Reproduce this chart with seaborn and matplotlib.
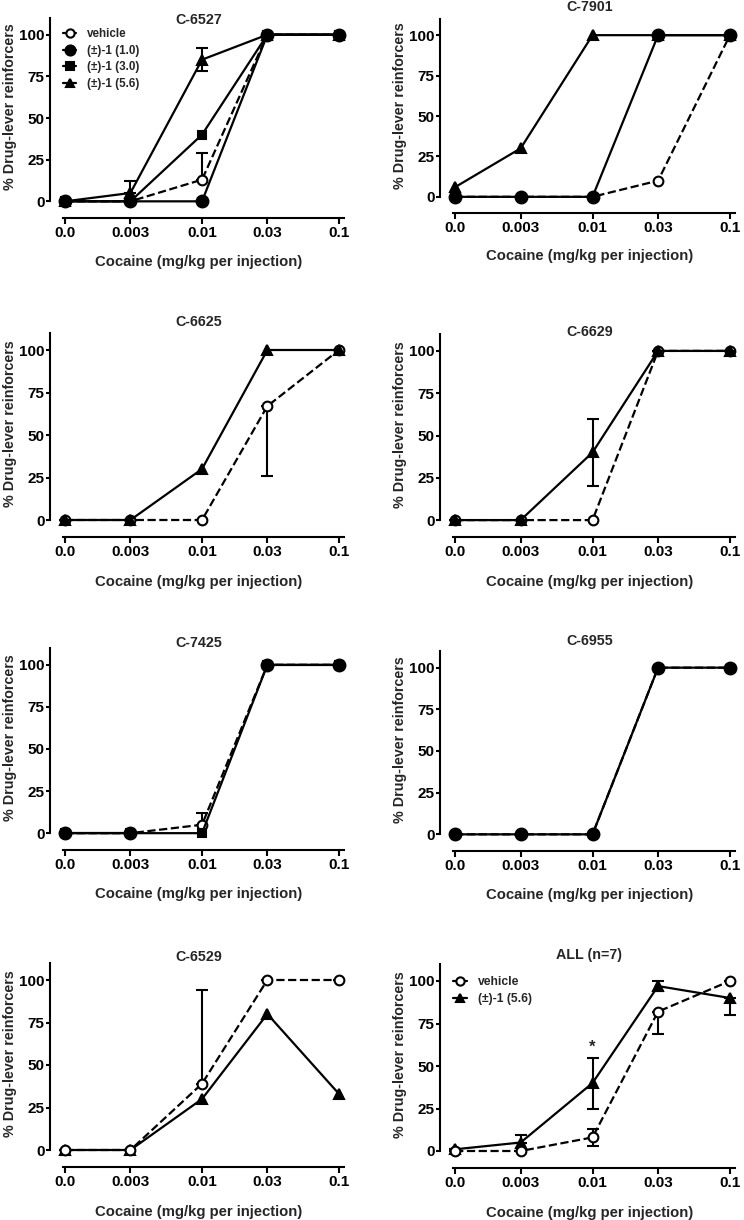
import numpy as np
import matplotlib
matplotlib.use("Agg")
import matplotlib.pyplot as plt
from matplotlib.lines import Line2D
from matplotlib.ticker import NullLocator
import seaborn as sns

# ---------------- data ----------------
DOSES = [0.001, 0.003, 0.01, 0.03, 0.1]          # 0.001 stands in for the "0.0" (saline) point on the log axis
DOSE_LABELS = ["0.0", "0.003", "0.01", "0.03", "0.1"]
Y_TICKS = [0, 25, 50, 75, 100]
NAN = float("nan")

# C-6527
c6527_vehicle = [0, 0, 13, 100, 100]
c6527_vehicle_up = [0, 0, 16, 0, 0]
c6527_d10 = [0, 0, 0, 100, 100]
c6527_d30 = [0, 0, 40, 100, 100]
c6527_d56 = [0, 5, 85, 100, 100]
c6527_d56_up = [0, 7, 7, 0, 0]
c6527_d56_dn = [0, 0, 7, 0, 0]

# C-7901
c7901_vehicle = [0, 0, 0, 10, 100]
c7901_d10 = [0, 0, 0, 100, 100]
c7901_d56 = [6, 30, 100, 100, 100]

# C-6625
c6625_vehicle = [0, 0, 0, 67, 100]
c6625_vehicle_dn = [0, 0, 0, 41, 0]
c6625_d56 = [0, 0, 30, 100, 100]

# C-6629
c6629_vehicle = [0, 0, 0, 100, 100]
c6629_d56 = [0, 0, 40, 100, 100]
c6629_d56_up = [0, 0, 20, 0, 0]
c6629_d56_dn = [0, 0, 20, 0, 0]

# C-7425
c7425_vehicle = [0, 0, 5, 100, 100]
c7425_vehicle_up = [0, 0, 7, 0, 0]
c7425_d30 = [0, 0, 0, 100, 100]
c7425_d10 = [0, 0, NAN, 100, 100]

# C-6955
c6955_vehicle = [0, 0, 0, 100, 100]
c6955_d10 = [0, 0, 0, 100, 100]

# C-6529
c6529_vehicle = [0, 0, 39, 100, 100]
c6529_vehicle_up = [0, 0, 55, 0, 0]
c6529_d56 = [0, 0, 30, 80, 33]

# ALL (n=7)
all_vehicle = [0, 0, 8, 82, 100]
all_vehicle_up = [0, 0, 5, 0, 0]
all_vehicle_dn = [0, 0, 5, 13, 0]
all_d56 = [1, 5, 40, 97, 90]
all_d56_up = [0, 4.5, 15, 3, 0]
all_d56_dn = [0, 0, 15, 3, 10]
all_star_dose = 0.01
all_star_y = 61

ZERO = [0, 0, 0, 0, 0]

# ---------------- styles ----------------
STYLE = {
    "vehicle":     dict(marker="o", ms=7.0, mfc="white", ls="--"),
    "(±)-1 (1.0)": dict(marker="o", ms=8.5, mfc="black", ls="-"),
    "(±)-1 (3.0)": dict(marker="s", ms=6.0, mfc="black", ls="-"),
    "(±)-1 (5.6)": dict(marker="^", ms=7.0, mfc="black", ls="-"),
}
LW = 1.6

W, H = 744, 1220
# (left, right, top, bottom) in pixels, top = y value 110, bottom = y value -10
RECTS = [
    (50, 348, 18, 218), (440, 739, 19, 213),
    (50, 348, 333, 537), (440, 739, 334, 537),
    (50, 348, 648, 850), (440, 739, 651, 851),
    (50, 348, 963, 1167), (440, 739, 964, 1168),
]
TITLE_Y = [0.99, 1.063, 1.055, 1.008, 1.026, 1.05, 1.031, 1.044]

panels = [
    ("C-6527", [("vehicle", c6527_vehicle, ZERO, c6527_vehicle_up),
                ("(±)-1 (1.0)", c6527_d10, ZERO, ZERO),
                ("(±)-1 (3.0)", c6527_d30, ZERO, ZERO),
                ("(±)-1 (5.6)", c6527_d56, c6527_d56_dn, c6527_d56_up)]),
    ("C-7901", [("vehicle", c7901_vehicle, ZERO, ZERO),
                ("(±)-1 (5.6)", c7901_d56, ZERO, ZERO),
                ("(±)-1 (1.0)", c7901_d10, ZERO, ZERO)]),
    ("C-6625", [("vehicle", c6625_vehicle, c6625_vehicle_dn, ZERO),
                ("(±)-1 (5.6)", c6625_d56, ZERO, ZERO)]),
    ("C-6629", [("vehicle", c6629_vehicle, ZERO, ZERO),
                ("(±)-1 (5.6)", c6629_d56, c6629_d56_dn, c6629_d56_up)]),
    ("C-7425", [("vehicle", c7425_vehicle, ZERO, c7425_vehicle_up),
                ("(±)-1 (1.0)", c7425_d10, ZERO, ZERO),
                ("(±)-1 (3.0)", c7425_d30, ZERO, ZERO)]),
    ("C-6955", [("vehicle", c6955_vehicle, ZERO, ZERO),
                ("(±)-1 (1.0)", c6955_d10, ZERO, ZERO)]),
    ("C-6529", [("(±)-1 (5.6)", c6529_d56, ZERO, ZERO),
                ("vehicle", c6529_vehicle, ZERO, c6529_vehicle_up)]),
    ("ALL (n=7)", [("(±)-1 (5.6)", all_d56, all_d56_dn, all_d56_up),
                   ("vehicle", all_vehicle, all_vehicle_dn, all_vehicle_up)]),
]
LEGENDS = {
    0: (["vehicle", "(±)-1 (1.0)", "(±)-1 (3.0)", "(±)-1 (5.6)"], (0.045, 0.95), 8.4),
    7: (["vehicle", "(±)-1 (5.6)"], (0.045, 0.94), 8.7),
}

sns.set_style("ticks")
plt.rcParams["font.family"] = ["Liberation Sans", "DejaVu Sans"]
plt.rcParams["font.weight"] = "bold"
plt.rcParams["axes.labelweight"] = "bold"

fig = plt.figure(figsize=(W / 100, H / 100), dpi=100)


def draw_series(ax, name, y, lo, hi, z):
    st = STYLE[name]
    x = np.array(DOSES, dtype=float)
    yv = np.array(y, dtype=float)
    # error bars (below markers)
    if np.any(np.array(lo) > 0) or np.any(np.array(hi) > 0):
        ax.errorbar(x, yv, yerr=[lo, hi], fmt="none", ecolor="black",
                    elinewidth=1.5, capsize=4, capthick=1.5, zorder=z)
    # split into runs of finite values so that gaps stay gaps
    ok = np.isfinite(yv)
    runs, cur = [], []
    for i in range(len(x)):
        if ok[i]:
            cur.append(i)
        elif cur:
            runs.append(cur); cur = []
    if cur:
        runs.append(cur)
    for r in runs:
        sns.lineplot(x=x[r], y=yv[r], ax=ax, color="black", linewidth=LW,
                     linestyle=st["ls"], marker=st["marker"], markersize=st["ms"],
                     markerfacecolor=st["mfc"], markeredgecolor="black",
                     markeredgewidth=1.5, estimator=None, sort=False,
                     legend=False, zorder=z + 0.5)


for idx, (title, series) in enumerate(panels):
    l, r, t, b = RECTS[idx]
    ax = fig.add_axes([l / W, 1 - b / H, (r - l) / W, (b - t) / H])
    for k, (name, y, lo, hi) in enumerate(series):
        draw_series(ax, name, y, lo, hi, 3 + k)

    ax.set_xscale("log")
    ax.set_xlim(10 ** -3.11, 10 ** -0.934)
    ax.set_ylim(-10, 110)
    ax.set_xticks(DOSES)
    ax.set_xticklabels(DOSE_LABELS)
    ax.xaxis.set_minor_locator(NullLocator())
    ax.set_yticks(Y_TICKS)
    ax.set_yticklabels([str(v) for v in Y_TICKS])
    for s in ("top", "right"):
        ax.spines[s].set_visible(False)
    for s in ("left", "bottom"):
        ax.spines[s].set_linewidth(1.5)
        ax.spines[s].set_color("black")
    ax.spines["left"].set_bounds(0, 110)
    ax.spines["bottom"].set_bounds(10 ** -3.012, 10 ** -0.96)
    ax.tick_params(axis="x", direction="out", length=4, width=1.5, pad=2,
                   labelsize=11, colors="black")
    ax.tick_params(axis="y", direction="out", length=3, width=1.5, pad=1,
                   labelsize=11, colors="black")
    for lab in ax.get_xticklabels() + ax.get_yticklabels():
        lab.set_fontweight("bold")
    ax.set_xlabel("Cocaine (mg/kg per injection)", fontsize=10.7, fontweight="bold")
    ax.set_ylabel("% Drug-lever reinforcers", fontsize=10.3, fontweight="bold")
    ax.xaxis.set_label_coords(0.5, -0.185)
    ax.yaxis.set_label_coords(-0.112, 0.555)
    ax.text(0.5, TITLE_Y[idx], title, transform=ax.transAxes, ha="center",
            va="center", fontsize=10.3, fontweight="bold")
    ax.grid(False)

    if idx in LEGENDS:
        names, anchor, fs = LEGENDS[idx]
        handles = [Line2D([], [], color="black", lw=LW, ls="-",
                          marker=STYLE[n]["marker"], ms=STYLE[n]["ms"] * 0.85,
                          mfc=STYLE[n]["mfc"], mec="black", mew=1.5) for n in names]
        ax.legend(handles, names, loc="upper left", bbox_to_anchor=anchor,
                  frameon=False, handlelength=1.1, handletextpad=0.95,
                  labelspacing=0.4, borderpad=0, borderaxespad=0,
                  prop={"weight": "bold", "size": fs})

    if idx == 7:
        ax.text(all_star_dose, all_star_y, "*", ha="center", va="center",
                fontsize=12, fontweight="bold")

fig.savefig("out.png", dpi=100)
